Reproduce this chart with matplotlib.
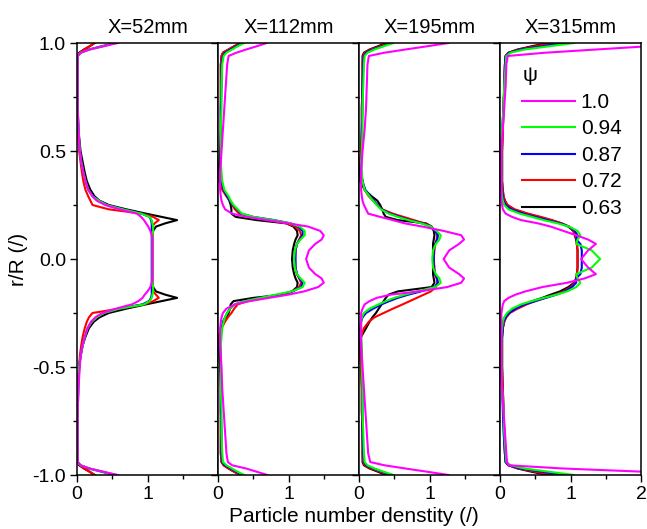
import matplotlib
matplotlib.use('Agg')
import matplotlib.pyplot as plt
from matplotlib.ticker import FixedLocator, FixedFormatter, NullFormatter

plt.rcParams['font.family'] = ['Liberation Sans', 'DejaVu Sans']
plt.rcParams['axes.unicode_minus'] = False

# radial positions r/R (shared by all profiles)
r_over_R = [1.0, 0.985, 0.97, 0.955, 0.94, 0.9, 0.8, 0.7, 0.6, 0.5,
            0.45, 0.4, 0.36, 0.32, 0.29, 0.27, 0.25, 0.23, 0.21, 0.195,
            0.18, 0.165, 0.15, 0.13, 0.11, 0.09, 0.07, 0.04,
            0.0,
            -0.04, -0.07, -0.09, -0.11, -0.13, -0.15, -0.165, -0.18,
            -0.195, -0.21, -0.23, -0.25, -0.27, -0.29, -0.32, -0.36, -0.4, -0.45,
            -0.5, -0.6, -0.7, -0.8, -0.9, -0.94, -0.955, -0.97, -0.985, -1.0]

titles = ['X=52mm', 'X=112mm', 'X=195mm', 'X=315mm']
psi_labels = ['1.0', '0.94', '0.87', '0.72', '0.63']
psi_colors = ['#ff00ff', '#00ff00', '#0000ff', '#ff0000', '#000000']

# ---------------- X = 52 mm ----------------
x52_psi100 = [0.58, 0.38, 0.18, 0.05, 0.01, 0.01, 0.01, 0.01, 0.02, 0.04,
              0.06, 0.09, 0.12, 0.16, 0.22, 0.28, 0.4, 0.6, 0.85, 0.91,
              0.95, 0.98, 1.01, 1.04, 1.06, 1.07, 1.07, 1.07,
              1.07,
              1.07, 1.07, 1.07, 1.06, 1.04, 1.0, 0.96, 0.93,
              0.87, 0.78, 0.55, 0.36, 0.26, 0.2, 0.15, 0.11, 0.08, 0.05,
              0.04, 0.02, 0.01, 0.01, 0.01, 0.01, 0.05, 0.18, 0.38, 0.58]
x52_psi094 = [0.55, 0.37, 0.18, 0.05, 0.01, 0.01, 0.01, 0.01, 0.02, 0.04,
              0.06, 0.09, 0.12, 0.16, 0.22, 0.31, 0.42, 0.65, 0.91, 1.03,
              1.06, 1.07, 1.08, 1.08, 1.07, 1.07, 1.07, 1.07,
              1.07,
              1.07, 1.07, 1.07, 1.07, 1.08, 1.08, 1.07, 1.06,
              1.03, 0.95, 0.6, 0.38, 0.28, 0.21, 0.15, 0.11, 0.08, 0.05,
              0.03, 0.02, 0.01, 0.01, 0.01, 0.01, 0.05, 0.18, 0.37, 0.55]
x52_psi087 = [0.53, 0.35, 0.17, 0.05, 0.01, 0.01, 0.01, 0.01, 0.02, 0.04,
              0.06, 0.09, 0.12, 0.16, 0.23, 0.31, 0.43, 0.66, 0.92, 1.03,
              1.05, 1.06, 1.06, 1.06, 1.06, 1.06, 1.06, 1.06,
              1.06,
              1.06, 1.06, 1.06, 1.06, 1.06, 1.06, 1.06, 1.05,
              1.02, 0.93, 0.6, 0.38, 0.28, 0.21, 0.15, 0.11, 0.08, 0.05,
              0.03, 0.02, 0.01, 0.01, 0.01, 0.01, 0.05, 0.17, 0.35, 0.53]
x52_psi072 = [0.25, 0.18, 0.1, 0.04, 0.01, 0.01, 0.01, 0.0, 0.01, 0.03,
              0.05, 0.07, 0.09, 0.12, 0.16, 0.19, 0.22, 0.45, 0.92, 1.08,
              1.16, 1.1, 1.07, 1.07, 1.07, 1.07, 1.07, 1.07,
              1.07,
              1.07, 1.07, 1.07, 1.07, 1.07, 1.08, 1.12, 1.16,
              1.08, 0.95, 0.6, 0.22, 0.17, 0.14, 0.11, 0.08, 0.06, 0.04,
              0.03, 0.01, 0.0, 0.01, 0.01, 0.01, 0.04, 0.1, 0.18, 0.25]
x52_psi063 = [0.25, 0.18, 0.1, 0.03, 0.01, 0.01, 0.01, 0.01, 0.02, 0.05,
              0.08, 0.11, 0.14, 0.19, 0.25, 0.32, 0.45, 0.7, 0.98, 1.2,
              1.42, 1.25, 1.12, 1.08, 1.07, 1.07, 1.07, 1.07,
              1.07,
              1.07, 1.07, 1.07, 1.07, 1.08, 1.12, 1.25, 1.42,
              1.2, 0.98, 0.7, 0.45, 0.32, 0.24, 0.17, 0.12, 0.08, 0.05,
              0.03, 0.01, 0.01, 0.01, 0.01, 0.01, 0.03, 0.1, 0.18, 0.25]

# ---------------- X = 112 mm ----------------
x112_psi100 = [0.69, 0.55, 0.4, 0.26, 0.15, 0.13, 0.11, 0.09, 0.07, 0.05,
               0.04, 0.03, 0.03, 0.03, 0.04, 0.05, 0.07, 0.1, 0.2, 0.4,
               0.7, 1.0, 1.28, 1.45, 1.5, 1.47, 1.38, 1.29,
               1.25,
               1.29, 1.38, 1.47, 1.5, 1.42, 1.22, 1.0, 0.72,
               0.45, 0.24, 0.12, 0.07, 0.05, 0.04, 0.03, 0.03, 0.03, 0.04,
               0.05, 0.06, 0.08, 0.1, 0.12, 0.14, 0.2, 0.4, 0.55, 0.7]
x112_psi094 = [0.37, 0.28, 0.2, 0.12, 0.08, 0.06, 0.05, 0.05, 0.04, 0.04,
               0.04, 0.05, 0.06, 0.09, 0.15, 0.18, 0.22, 0.28, 0.34, 0.5,
               0.78, 1.03, 1.16, 1.23, 1.23, 1.17, 1.12, 1.09,
               1.08,
               1.09, 1.12, 1.17, 1.23, 1.2, 1.05, 0.82, 0.6,
               0.38, 0.24, 0.17, 0.13, 0.1, 0.08, 0.06, 0.05, 0.04, 0.04,
               0.04, 0.04, 0.05, 0.05, 0.06, 0.07, 0.12, 0.2, 0.28, 0.37]
x112_psi087 = [0.35, 0.26, 0.18, 0.1, 0.07, 0.05, 0.05, 0.04, 0.04, 0.04,
               0.04, 0.04, 0.05, 0.08, 0.13, 0.17, 0.21, 0.27, 0.33, 0.5,
               0.8, 1.03, 1.14, 1.2, 1.2, 1.16, 1.12, 1.1,
               1.1,
               1.1, 1.12, 1.16, 1.2, 1.18, 1.06, 0.86, 0.6,
               0.38, 0.24, 0.17, 0.13, 0.1, 0.07, 0.05, 0.04, 0.03, 0.04,
               0.04, 0.04, 0.04, 0.05, 0.05, 0.06, 0.1, 0.18, 0.26, 0.35]
x112_psi072 = [0.32, 0.23, 0.15, 0.07, 0.05, 0.04, 0.04, 0.04, 0.04, 0.04,
               0.04, 0.03, 0.04, 0.06, 0.12, 0.17, 0.2, 0.24, 0.3, 0.45,
               0.72, 0.97, 1.1, 1.16, 1.18, 1.15, 1.12, 1.1,
               1.09,
               1.1, 1.12, 1.15, 1.18, 1.15, 1.06, 0.9, 0.65,
               0.42, 0.28, 0.23, 0.19, 0.14, 0.1, 0.05, 0.03, 0.03, 0.04,
               0.04, 0.04, 0.04, 0.04, 0.04, 0.05, 0.08, 0.15, 0.23, 0.32]
x112_psi063 = [0.32, 0.23, 0.15, 0.07, 0.05, 0.04, 0.04, 0.04, 0.04, 0.03,
               0.02, 0.01, 0.02, 0.07, 0.13, 0.16, 0.18, 0.19, 0.19, 0.25,
               0.55, 0.97, 1.07, 1.12, 1.13, 1.1, 1.08, 1.06,
               1.05,
               1.06, 1.08, 1.1, 1.13, 1.12, 1.05, 0.92, 0.5,
               0.22, 0.18, 0.17, 0.15, 0.12, 0.09, 0.05, 0.01, 0.01, 0.02,
               0.03, 0.04, 0.04, 0.04, 0.04, 0.05, 0.08, 0.15, 0.23, 0.32]

# ---------------- X = 195 mm ----------------
x195_psi100 = [1.27, 0.97, 0.66, 0.36, 0.14, 0.12, 0.11, 0.1, 0.08, 0.05,
               0.04, 0.03, 0.03, 0.03, 0.04, 0.05, 0.07, 0.1, 0.13, 0.3,
               0.48, 0.65, 0.9, 1.2, 1.45, 1.49, 1.42, 1.28,
               1.2,
               1.28, 1.42, 1.49, 1.45, 1.25, 0.85, 0.45, 0.25,
               0.15, 0.08, 0.05, 0.03, 0.03, 0.03, 0.03, 0.03, 0.03, 0.04,
               0.05, 0.07, 0.09, 0.11, 0.13, 0.16, 0.36, 0.66, 0.97, 1.27]
x195_psi094 = [0.49, 0.35, 0.22, 0.12, 0.08, 0.07, 0.06, 0.05, 0.05, 0.04,
               0.03, 0.04, 0.05, 0.08, 0.15, 0.2, 0.25, 0.31, 0.42, 0.55,
               0.7, 0.88, 1.02, 1.1, 1.16, 1.14, 1.09, 1.05,
               1.04,
               1.05, 1.09, 1.14, 1.16, 1.08, 0.82, 0.65, 0.5,
               0.38, 0.28, 0.15, 0.07, 0.04, 0.03, 0.03, 0.03, 0.04, 0.04,
               0.04, 0.05, 0.05, 0.06, 0.07, 0.08, 0.12, 0.22, 0.35, 0.49]
x195_psi087 = [0.46, 0.33, 0.2, 0.1, 0.07, 0.06, 0.05, 0.05, 0.04, 0.04,
               0.03, 0.03, 0.05, 0.09, 0.16, 0.21, 0.26, 0.32, 0.44, 0.58,
               0.72, 0.9, 1.02, 1.08, 1.12, 1.11, 1.08, 1.06,
               1.06,
               1.06, 1.08, 1.11, 1.12, 1.07, 0.88, 0.7, 0.55,
               0.43, 0.32, 0.2, 0.1, 0.05, 0.03, 0.02, 0.02, 0.03, 0.04,
               0.04, 0.05, 0.05, 0.05, 0.06, 0.07, 0.1, 0.2, 0.33, 0.46]
x195_psi072 = [0.42, 0.3, 0.17, 0.08, 0.06, 0.05, 0.05, 0.04, 0.04, 0.03,
               0.02, 0.03, 0.05, 0.08, 0.14, 0.2, 0.26, 0.33, 0.48, 0.63,
               0.78, 0.93, 1.02, 1.08, 1.11, 1.1, 1.08, 1.07,
               1.06,
               1.07, 1.08, 1.1, 1.11, 1.09, 1.02, 0.92, 0.82,
               0.72, 0.62, 0.48, 0.35, 0.22, 0.14, 0.07, 0.03, 0.02, 0.02,
               0.03, 0.04, 0.04, 0.05, 0.05, 0.06, 0.08, 0.17, 0.3, 0.42]
x195_psi063 = [0.38, 0.27, 0.15, 0.07, 0.05, 0.05, 0.05, 0.04, 0.04, 0.03,
               0.02, 0.01, 0.02, 0.08, 0.18, 0.26, 0.3, 0.33, 0.35, 0.38,
               0.55, 0.95, 1.03, 1.06, 1.07, 1.06, 1.05, 1.05,
               1.05,
               1.05, 1.05, 1.06, 1.07, 1.03, 0.55, 0.42, 0.38,
               0.35, 0.32, 0.28, 0.24, 0.19, 0.15, 0.1, 0.03, 0.01, 0.02,
               0.03, 0.04, 0.04, 0.05, 0.05, 0.05, 0.07, 0.15, 0.27, 0.38]

# ---------------- X = 315 mm ----------------
x315_psi100 = [2.8, 2.1, 1.37, 0.64, 0.11, 0.09, 0.08, 0.06, 0.04, 0.02,
               0.02, 0.02, 0.02, 0.02, 0.02, 0.02, 0.03, 0.04, 0.08, 0.17,
               0.3, 0.54, 0.72, 0.9, 1.08, 1.25, 1.36, 1.25,
               1.15,
               1.25, 1.36, 1.2, 0.95, 0.6, 0.36, 0.22, 0.12,
               0.06, 0.04, 0.03, 0.02, 0.02, 0.02, 0.02, 0.02, 0.02, 0.02,
               0.02, 0.03, 0.05, 0.07, 0.09, 0.1, 0.12, 0.9, 2.05, 3.2]
x315_psi094 = [1.05, 0.7, 0.35, 0.15, 0.09, 0.08, 0.06, 0.05, 0.03, 0.02,
               0.02, 0.02, 0.02, 0.02, 0.03, 0.04, 0.06, 0.12, 0.28, 0.45,
               0.62, 0.82, 0.98, 1.1, 1.14, 1.1, 1.08, 1.3,
               1.42,
               1.3, 1.08, 1.1, 1.14, 1.08, 0.95, 0.8, 0.62,
               0.45, 0.3, 0.17, 0.1, 0.06, 0.04, 0.03, 0.02, 0.02, 0.02,
               0.02, 0.03, 0.05, 0.06, 0.08, 0.09, 0.15, 0.35, 0.7, 1.05]
x315_psi087 = [0.9, 0.6, 0.3, 0.13, 0.08, 0.07, 0.06, 0.05, 0.03, 0.02,
               0.02, 0.02, 0.02, 0.03, 0.04, 0.05, 0.08, 0.16, 0.33, 0.5,
               0.68, 0.85, 0.98, 1.06, 1.1, 1.08, 1.14, 1.16,
               1.16,
               1.16, 1.14, 1.08, 1.08, 1.02, 0.92, 0.8, 0.65,
               0.5, 0.35, 0.22, 0.13, 0.08, 0.05, 0.04, 0.03, 0.02, 0.02,
               0.02, 0.03, 0.04, 0.05, 0.07, 0.08, 0.12, 0.3, 0.6, 0.9]
x315_psi072 = [0.75, 0.5, 0.27, 0.12, 0.08, 0.07, 0.06, 0.05, 0.04, 0.03,
               0.03, 0.03, 0.03, 0.04, 0.05, 0.07, 0.11, 0.21, 0.4, 0.58,
               0.74, 0.88, 0.98, 1.04, 1.07, 1.08, 1.09, 1.1,
               1.1,
               1.1, 1.09, 1.08, 1.06, 1.0, 0.9, 0.78, 0.64,
               0.5, 0.38, 0.25, 0.14, 0.09, 0.06, 0.04, 0.03, 0.03, 0.03,
               0.03, 0.04, 0.05, 0.06, 0.07, 0.08, 0.12, 0.27, 0.5, 0.75]
x315_psi063 = [0.68, 0.45, 0.25, 0.12, 0.08, 0.07, 0.06, 0.05, 0.04, 0.03,
               0.03, 0.03, 0.03, 0.04, 0.05, 0.07, 0.1, 0.19, 0.38, 0.55,
               0.72, 0.87, 0.97, 1.04, 1.06, 1.08, 1.09, 1.1,
               1.1,
               1.1, 1.09, 1.08, 1.05, 0.97, 0.85, 0.72, 0.6,
               0.46, 0.34, 0.22, 0.12, 0.08, 0.06, 0.04, 0.03, 0.03, 0.03,
               0.03, 0.04, 0.05, 0.06, 0.07, 0.08, 0.12, 0.25, 0.45, 0.68]

panels = [
    [x52_psi100, x52_psi094, x52_psi087, x52_psi072, x52_psi063],
    [x112_psi100, x112_psi094, x112_psi087, x112_psi072, x112_psi063],
    [x195_psi100, x195_psi094, x195_psi087, x195_psi072, x195_psi063],
    [x315_psi100, x315_psi094, x315_psi087, x315_psi072, x315_psi063],
]

W, H = 647, 529
fig = plt.figure(figsize=(W / 100, H / 100), dpi=100)

left_px, right_px, top_px, bot_px = 77, 641, 43, 475
pw = (right_px - left_px) / 4.0
axes = []
for i in range(4):
    ax = fig.add_axes([(left_px + i * pw) / W, 1 - bot_px / H,
                       pw / W, (bot_px - top_px) / H])
    axes.append(ax)

draw_order = [4, 3, 2, 1, 0]
for i, ax in enumerate(axes):
    series = panels[i]
    handles = {}
    for k in draw_order:
        ln, = ax.plot(series[k], r_over_R, color=psi_colors[k], lw=1.5,
                      solid_joinstyle='round', label=psi_labels[k])
        handles[k] = ln
    ax.set_xlim(0, 2)
    ax.set_ylim(-1, 1)
    ax.set_title(titles[i], fontsize=14.5, pad=7)
    for sp in ax.spines.values():
        sp.set_linewidth(1.1)
    if i < 3:
        ax.xaxis.set_major_locator(FixedLocator([0, 1]))
        ax.xaxis.set_major_formatter(FixedFormatter(['0', '1']))
        ax.xaxis.set_minor_locator(FixedLocator([0.5, 1.5]))
    else:
        ax.xaxis.set_major_locator(FixedLocator([0, 1, 2]))
        ax.xaxis.set_major_formatter(FixedFormatter(['0', '1', '2']))
        ax.xaxis.set_minor_locator(FixedLocator([0.5, 1.5]))
    ax.yaxis.set_major_locator(FixedLocator([-1.0, -0.5, 0.0, 0.5, 1.0]))
    ax.yaxis.set_minor_locator(FixedLocator([-0.75, -0.25, 0.25, 0.75]))
    if i == 0:
        ax.yaxis.set_major_formatter(FixedFormatter(['-1.0', '-0.5', '0.0', '0.5', '1.0']))
    else:
        ax.yaxis.set_major_formatter(NullFormatter())
    ax.tick_params(axis='both', which='major', direction='out', length=5,
                   width=1.0, labelsize=14, pad=3)
    ax.tick_params(axis='both', which='minor', direction='out', length=3,
                   width=1.0)
    ax.tick_params(axis='x', which='both', top=False)
    ax.tick_params(axis='y', which='both', right=False)
    if i == 3:
        hl = [handles[k] for k in range(5)]
        leg = ax.legend(hl, psi_labels, loc='upper left',
                        bbox_to_anchor=(0.1, 0.965), frameon=False,
                        fontsize=15, title='\u03c8', title_fontsize=15,
                        handlelength=2.5, handletextpad=0.3,
                        labelspacing=0.36, borderaxespad=0.0)
        leg._legend_box.align = 'left'

fig.text(18 / W, 1 - 259 / H, 'r/R (/)', rotation=90, ha='center',
         va='center', fontsize=15)
fig.text(354 / W, 1 - 516 / H, 'Particle number denstity (/)',
         ha='center', va='center', fontsize=15)

fig.savefig('out.png', dpi=100)
